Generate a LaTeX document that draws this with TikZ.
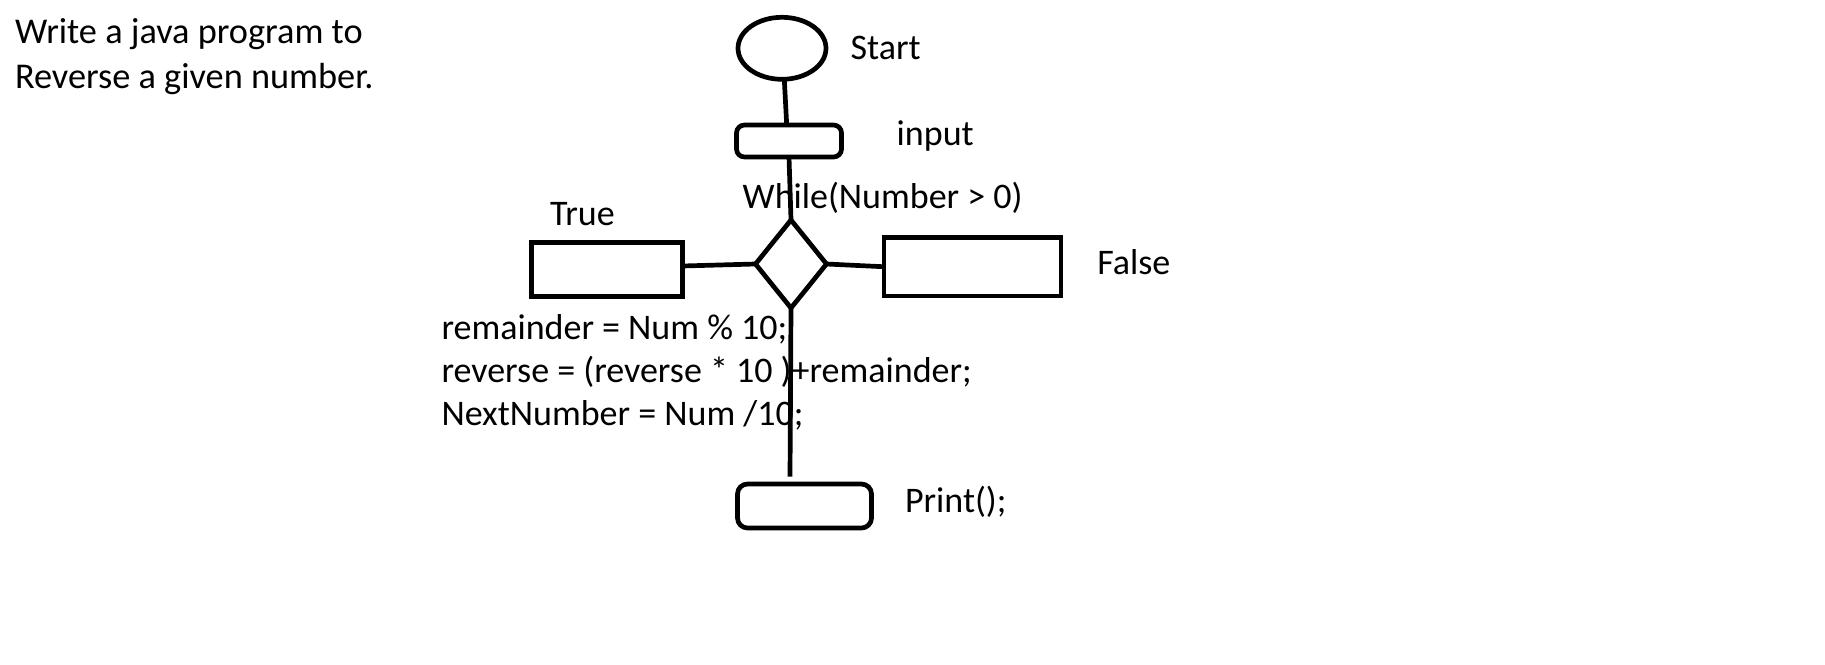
\documentclass[tikz,border=0pt]{standalone}
\usepackage{fontspec}
\setmainfont{Carlito}
\usetikzlibrary{shapes.geometric}
\tikzset{
  flowline/.style={line width=4.7pt, draw=black},
  shapebox/.style={draw=black, line width=4.7pt, inner sep=0pt, outer sep=0pt},
  lbl/.style={anchor=base west, inner sep=0pt, outer sep=0pt, font=\fontsize{36}{43}\selectfont},
  headlbl/.style={anchor=base west, inner sep=0pt, outer sep=0pt, font=\fontsize{36.3}{45}\selectfont},
}
\begin{document}
\begin{tikzpicture}[x=1pt,y=-1pt]
\fill[white] (0,0) rectangle (1825,664);
\useasboundingbox (0,0) rectangle (1825,664);

% heading
\node[headlbl] (head1) at (15,43.3) {Write a java program to};
\node[headlbl] (head2) at (15,88.3) {Reverse a given number.};

% shapes
\node[shapebox, ellipse, minimum width=88pt, minimum height=62pt] (start) at (782,48.3) {};
\node[shapebox, rectangle, rounded corners=8pt, minimum width=105pt, minimum height=32pt] (input) at (789,141) {};
\node[shapebox, diamond, minimum width=71pt, minimum height=88pt] (dia) at (791,264) {};
\node[shapebox, rectangle, minimum width=151pt, minimum height=54pt] (truebox) at (607,269.5) {};
\node[shapebox, rectangle, minimum width=177pt, minimum height=58.5pt] (falsebox) at (972.5,266.75) {};
\node[shapebox, rectangle, rounded corners=10pt, minimum width=134pt, minimum height=44pt] (printbox) at (804.5,506) {};
\coordinate (loopend) at (790,476.7);

% labels
\node[lbl] (startlbl) at (850.7,59) {Start};
\node[lbl] (inputlbl) at (896.7,145) {input};
\node[lbl] (whilelbl) at (742.7,208.3) {While(Number > 0)};
\node[lbl] (truelbl) at (550,225.7) {True};
\node[lbl] (falselbl) at (1097.3,274.3) {False};
\node[lbl] (code1) at (441.5,339.3) {remainder = Num \% 10;};
\node[lbl] (code2) at (441.5,382) {reverse = (reverse * 10 )+remainder;};
\node[lbl] (code3) at (441.5,425.5) {NextNumber = Num /10;};
\node[lbl] (printlbl) at (905,512.7) {Print();};

% connectors
\draw[flowline] ([xshift=2.3pt]start.south) -- ([xshift=-2.3pt]input.north);
\draw[flowline] (input.south) -- (dia.north);
\draw[flowline] ([yshift=3.5pt]truebox.east) -- (dia.west);
\draw[flowline] (dia.east) -- (falsebox.west);
\draw[flowline] (dia.south) -- (loopend);
\end{tikzpicture}
\end{document}
